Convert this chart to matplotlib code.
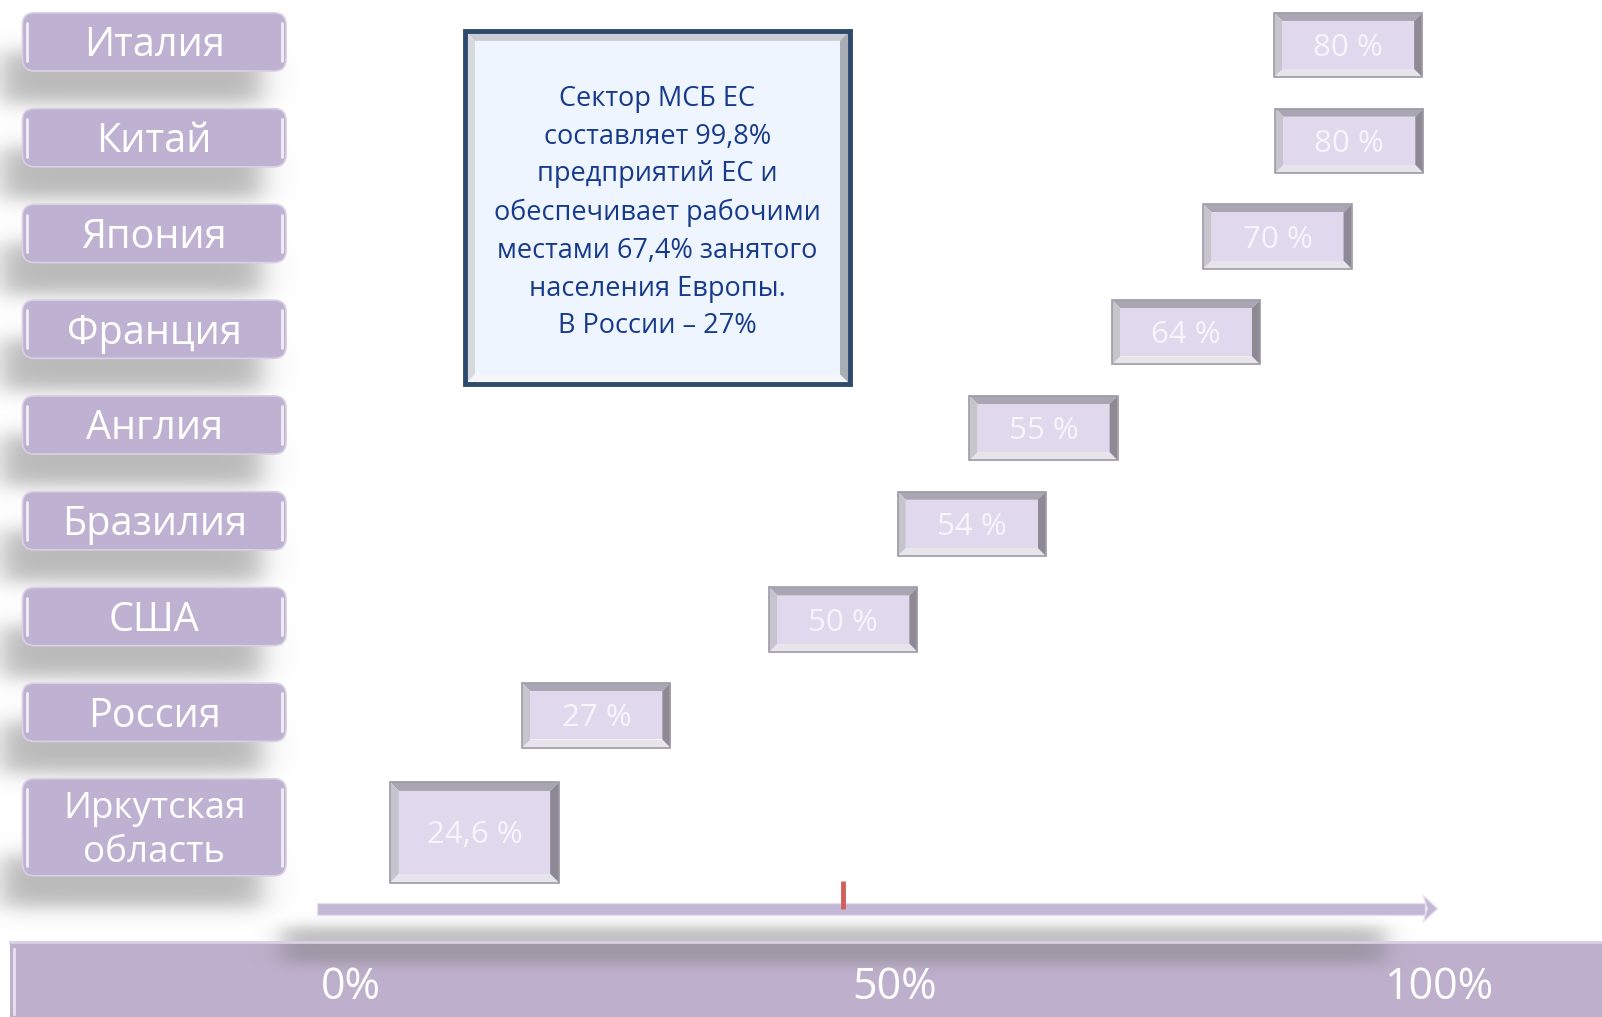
import numpy as np
import matplotlib.pyplot as plt
from matplotlib.patches import FancyBboxPatch, Rectangle, Polygon

# ---- data ----
countries = ["Италия", "Китай", "Япония", "Франция", "Англия",
             "Бразилия", "США", "Россия", "Иркутская\nобласть"]
shares = [80, 80, 70, 64, 55, 54, 50, 27, 24.6]
share_labels = ["80 %", "80 %", "70 %", "64 %", "55 %", "54 %", "50 %", "27 %", "24,6 %"]
# where the slide puts each box along the 0-100 % axis (not to scale on the original)
box_pos = [91.7, 91.8, 85.2, 76.8, 63.7, 57.1, 45.3, 22.6, 11.4]
rows = [0, 1, 2, 3, 4, 5, 6, 7, 8.2]
axis_ticks = [0, 50, 100]
axis_labels = ["0%", "50%", "100%"]
marker_pos = 45.3
note = ("Сектор МСБ ЕС\nсоставляет 99,8%\nпредприятий ЕС и\nобеспечивает рабочими\n"
        "местами 67,4% занятого\nнаселения Европы.\nВ России – 27%")

FONT = ["Open Sans", "DejaVu Sans"]
LAV = "#bfb1d2"
BAND = "#beafcc"

# slide geometry (pixels of the 1568-wide slide -> axis units)
SX, X0 = 10.65, 343.0      # px per percent, px of 0 %
SY, Y0 = 93.7, 41.0        # px per row, px of row 0


def dx(px):
    return px / SX


def dy(px):
    return px / SY


def band(v, a, b, s):
    return 0.5 * (np.tanh((v - a) / s) - np.tanh((v - b) / s))


def bevel_box(ax, xc, yc, wpx, hpx, bpx, cols, face, edge, z=3):
    w, h = dx(wpx) / 2, dy(hpx) / 2
    bx, by = dx(bpx), dy(bpx)
    x0, x1, ya, yb = xc - w, xc + w, yc - h, yc + h
    ix0, ix1, iya, iyb = x0 + bx, x1 - bx, ya + by, yb - by
    top, left, bottom, right = cols
    ax.add_patch(Polygon([(x0, ya), (x1, ya), (ix1, iya), (ix0, iya)], fc=top, ec="none", zorder=z))
    ax.add_patch(Polygon([(x0, yb), (x1, yb), (ix1, iyb), (ix0, iyb)], fc=bottom, ec="none", zorder=z))
    ax.add_patch(Polygon([(x0, ya), (ix0, iya), (ix0, iyb), (x0, yb)], fc=left, ec="none", zorder=z))
    ax.add_patch(Polygon([(x1, ya), (ix1, iya), (ix1, iyb), (x1, yb)], fc=right, ec="none", zorder=z))
    ax.add_patch(Rectangle((ix0, iya), ix1 - ix0, iyb - iya, fc=face, ec="none", zorder=z))
    ax.add_patch(Rectangle((x0, ya), x1 - x0, yb - ya, fc="none", ec=edge, lw=1.2, zorder=z + 0.1))


def main():
    fig = plt.figure(figsize=(16.02, 10.17), dpi=100, facecolor="white")
    ax = fig.add_axes([0, 0, 1, 1])
    xl = (-X0 / SX, (1568 - X0) / SX)
    yl = ((995 - Y0) / SY, -Y0 / SY)
    ax.set_xlim(*xl)
    ax.set_ylim(*yl)
    ax.axis("off")

    label_h = [95 if "\n" in c else 57 for c in countries]

    # soft drop shadows (built in slide pixels, shown over the whole slide)
    gx, gy = np.meshgrid(np.arange(0, 1568, 3.0), np.arange(0, 995, 3.0))
    shade = np.zeros_like(gx)
    for y, hpx in zip(rows, label_h):
        cy = Y0 + y * SY
        bot = cy + hpx / 2
        shade = np.maximum(shade, 0.55 * band(gx, 0, 255, 16) * band(gy, bot - 20, bot + 30, 11))
    shade = np.maximum(shade, 0.5 * band(gx, 275, 1355, 14) * band(gy, 906, 942, 7))
    rgba = np.zeros(gx.shape + (4,))
    rgba[..., :3] = 0.5
    rgba[..., 3] = shade
    ax.imshow(rgba, extent=(xl[0], xl[1], yl[0], yl[1]), origin="upper",
              aspect="auto", interpolation="bilinear", zorder=2.5)

    # left column: country labels
    lab_x = (151 - X0) / SX
    for name, y, hpx in zip(countries, rows, label_h):
        x0, y0 = lab_x - dx(129), y - dy(hpx / 2)
        ax.add_patch(FancyBboxPatch((x0, y0), dx(258), dy(hpx),
                                    boxstyle="round,pad=0,rounding_size=%.3f" % dx(12),
                                    mutation_aspect=SX / SY, fc=LAV, ec="#d9d0e4",
                                    lw=1.2, zorder=3))
        for side in (x0 + dx(4), x0 + dx(254)):
            ax.plot([side, side], [y0 + dy(10), y0 + dy(hpx - 10)], color="white",
                    lw=2, alpha=0.8, zorder=4, solid_capstyle="round")
        two = "\n" in name
        ax.text(lab_x, y + dy(4), name, ha="center", va="center", color="white",
                fontsize=26.5 if two else 28.5, family=FONT,
                linespacing=1.3, zorder=5)

    # value boxes
    for i, (pos, y, lab) in enumerate(zip(box_pos, rows, share_labels)):
        big = i == len(shares) - 1
        wpx, hpx = (166, 99) if big else (145, 63)
        yc = y + (dy(5) if big else dy(3))
        bevel_box(ax, pos, yc, wpx, hpx, 9 if big else 8,
                  ("#a9a6b3", "#c6c4cd", "#e7e5ec", "#8d8a96"), "#e0d8ec", "#9d9aa5")
        ax.text(pos, yc + dy(3), lab, ha="center", va="center", color="#f7f4fb",
                fontsize=22.5, family=FONT, zorder=6)

    # note box
    nx0, nx1 = (455 - X0) / SX, (832 - X0) / SX
    ny0, ny1 = (30 - Y0) / SY, (376 - Y0) / SY
    bevel_box(ax, (nx0 + nx1) / 2, (ny0 + ny1) / 2, 377, 346, 10,
              ("#c9ccd2", "#d6d9de", "#f4f6f9", "#a9adb5"), "#eef5fe", "#2d4a6e", z=3)
    ax.add_patch(Rectangle((nx0, ny0), nx1 - nx0, ny1 - ny0, fc="none", ec="#2d4a6e",
                           lw=3.5, zorder=4))
    ax.text((nx0 + nx1) / 2, (208 - Y0) / SY, note, ha="center", va="center",
            color="#173a8a", fontsize=19.5, family=FONT, linespacing=1.47, zorder=6)

    # axis arrow with marker
    ay = (889 - Y0) / SY
    ax_start, ax_end = (310 - X0) / SX, (1395 - X0) / SX
    th = dy(12)
    ax.add_patch(Rectangle((ax_start, ay - th / 2), ax_end - ax_start, th,
                           fc="#c5b7d6", ec="#e6e0ee", lw=1, zorder=3))
    ax.add_patch(Polygon([(ax_end - dx(2), ay - dy(13)), (ax_end + dx(12), ay),
                          (ax_end - dx(2), ay + dy(13)), (ax_end + dx(2), ay)],
                         fc="#c5b7d6", ec="#e6e0ee", lw=1, zorder=3))
    ax.plot([marker_pos, marker_pos], [ay - dy(27), ay], color="#d0605c", lw=3.5,
            zorder=4, solid_capstyle="butt")

    # bottom band with percent scale
    by0 = (922 - Y0) / SY
    ax.add_patch(Rectangle(((10 - X0) / SX, by0), dx(1600), dy(120), fc=BAND,
                           ec="none", zorder=2))
    ax.plot([(10 - X0) / SX, (1568 - X0) / SX], [by0, by0], color="#d8cfe3", lw=2, zorder=3)
    ax.plot([(14 - X0) / SX] * 2, [by0 + dy(6), by0 + dy(70)], color="#e8e2f0", lw=2, zorder=3)
    for t, lab in zip(axis_ticks, axis_labels):
        ax.text(t, (966 - Y0) / SY, lab, ha="center", va="center", color="white",
                fontsize=31, family=FONT, zorder=5)

    fig.savefig("out.png", dpi=100, facecolor="white")


if __name__ == "__main__":
    main()
